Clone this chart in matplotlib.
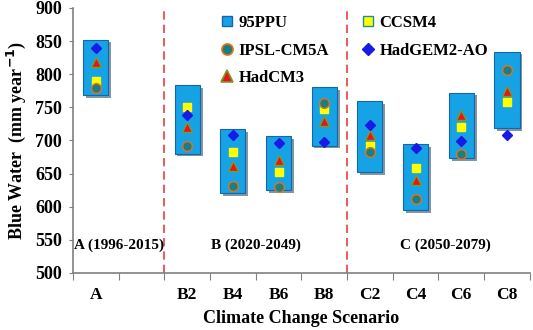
import matplotlib.pyplot as plt
import matplotlib.patheffects as pe
from matplotlib.lines import Line2D
import numpy as np

plt.rcParams['font.family'] = ['Liberation Serif', 'DejaVu Serif']
plt.rcParams['font.weight'] = 'bold'

# scenarios and their slot on the x axis (slot 1 is left empty)
scenarios = ['A', 'B2', 'B4', 'B6', 'B8', 'C2', 'C4', 'C6', 'C8']
slots = [0, 2, 3, 4, 5, 6, 7, 8, 9]

# 95PPU band
ppu_low = [768, 680, 620, 625, 692, 652, 595, 673, 718]
ppu_high = [852, 783, 717, 707, 781, 759, 694, 772, 834]

# GCM results
ccsm4 = [790, 751, 682, 652, 747, 691, 659, 720, 758]
ipsl = [779, 691, 631, 630, 757, 682, 611, 680, 807]
hadgem2 = [840, 738, 708, 696, 697, 724, 688, 699, 708]
hadcm3 = [819, 720, 661, 670, 730, 708, 640, 738, 775]

periods = ['A (1996-2015)', 'B (2020-2049)', 'C (2050-2079)']
period_x = [0.5, 3.5, 7.65]

fig = plt.figure(figsize=(5.33, 3.30), dpi=100)
ax = fig.add_axes([0.137, 0.173, 0.857, 0.803])

box_color = '#16a3e6'
ax.bar(slots, np.array(ppu_high) - np.array(ppu_low), bottom=ppu_low, width=0.55,
       color=box_color, edgecolor='#1565a8', linewidth=0.8, zorder=2,
       path_effects=[pe.SimplePatchShadow(offset=(2, -2), alpha=0.5), pe.Normal()])

ms = 6
ax.plot(slots, ccsm4, 's', ms=ms, color='#ffff00', mec='#ffff00', zorder=3)
ax.plot(slots, ipsl, 'o', ms=ms + 1, color='#1a7f80', mec='#e8701a', mew=1, zorder=4)
ax.plot(slots, hadcm3, '^', ms=ms + 1.5, color='#e8141a', mec='#7a9a2a', mew=1, zorder=4)
ax.plot(slots, hadgem2, 'D', ms=ms - 1, color='#1a1ae6', mec='#1a1ae6', zorder=4)

for xv in [1.5, 5.5]:
    ax.axvline(xv, color='#e8413c', ls=(0, (5, 3)), lw=1.2, zorder=1)

for t, xv in zip(periods, period_x):
    ax.text(xv, 541, t, ha='center', va='center', fontsize=11, fontweight='bold')

ax.set_xlim(-0.5, 9.5)
ax.set_ylim(500, 900)
ax.set_yticks(np.arange(500, 901, 50))
ax.set_xticks(np.arange(-0.5, 9.6, 1))
ax.set_xticklabels([])
ax.set_xticks(slots, minor=True)
ax.set_xticklabels(scenarios, minor=True)
ax.tick_params(axis='x', which='major', length=5, color='#808080', direction='out')
ax.tick_params(axis='x', which='minor', length=0, pad=10, labelsize=12.5)
ax.tick_params(axis='y', length=3, color='#808080', labelsize=13, pad=5)
for lab in ax.get_xticklabels(minor=True) + ax.get_yticklabels():
    lab.set_fontweight('bold')

for s in ['top', 'right']:
    ax.spines[s].set_visible(False)
for s in ['left', 'bottom']:
    ax.spines[s].set_color('#808080')
    ax.spines[s].set_linewidth(1.2)

ax.set_xlabel('Climate Change Scenario', fontsize=13, fontweight='bold', labelpad=5)
ax.set_ylabel('Blue Water  (mm year$^{\\mathbf{-1}}$)', fontsize=13, fontweight='bold', labelpad=5)

handles = [
    Line2D([], [], ls='', marker='s', ms=7, color=box_color, mec='#1565a8'),
    Line2D([], [], ls='', marker='o', ms=8, color='#1a7f80', mec='#e8701a', mew=1.2),
    Line2D([], [], ls='', marker='^', ms=8, color='#e8141a', mec='#7a9a2a', mew=1.2),
    Line2D([], [], ls='', marker='s', ms=7, color='#ffff00', mec='#1a8fa0', mew=1),
    Line2D([], [], ls='', marker='D', ms=6, color='#1a1ae6', mec='#1a1ae6'),
]
labels = ['95PPU', 'IPSL-CM5A', 'HadCM3', 'CCSM4', 'HadGEM2-AO']
leg = ax.legend(handles, labels, ncol=2, loc='upper left', bbox_to_anchor=(0.29, 1.03),
                frameon=False, handlelength=0.8, handletextpad=0.3, labelspacing=0.7,
                columnspacing=1.9, prop={'size': 12, 'weight': 'bold'})

fig.savefig('out.png', dpi=100)
